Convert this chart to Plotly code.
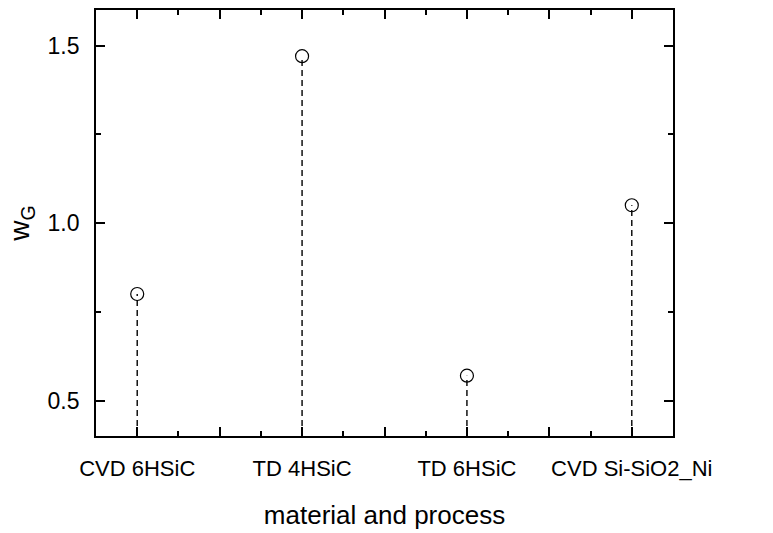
import plotly.graph_objects as go

categories = ["CVD 6HSiC", "TD 4HSiC", "TD 6HSiC", "CVD Si-SiO2_Ni"]
wG = [0.80, 1.47, 0.57, 1.05]
y_min, y_max = 0.4, 1.6
x_range = [-0.25, 3.25]

positions = list(range(len(categories)))
half_positions = [i + 0.5 for i in positions[:-1]]

fig = go.Figure()
for xi, v in zip(positions, wG):
    fig.add_trace(go.Scatter(
        x=[xi, xi], y=[y_min, v], mode="lines", xaxis="x2",
        line=dict(color="black", width=1.4, dash="6px,4px"),
        showlegend=False, hoverinfo="skip"))
fig.add_trace(go.Scatter(
    x=positions, y=wG, mode="markers",
    marker=dict(symbol="circle-open", size=13, color="black", line=dict(width=1.2)),
    showlegend=False))

axis_common = dict(
    showgrid=False, zeroline=False, linecolor="black", linewidth=1.8,
    mirror="ticks", ticks="inside", ticklen=9, tickwidth=1.8, tickcolor="black",
)

fig.update_layout(
    xaxis=dict(
        range=x_range, tickmode="array", tickvals=positions, ticktext=categories,
        showline=True,
        minor=dict(ticks="inside", ticklen=5, tickwidth=1.8, tickcolor="black", dtick=0.25, tick0=0),
        tickfont=dict(size=22, color="black"), ticklabelstandoff=12,
        title=dict(text="material and process", font=dict(size=26, color="black"), standoff=26),
        **axis_common),
    xaxis2=dict(
        range=x_range, overlaying="x", side="bottom", tickmode="array",
        tickvals=half_positions, showticklabels=False, showline=False,
        **axis_common),
    yaxis=dict(
        range=[y_min, y_max], tickmode="array", tickvals=[0.5, 1.0, 1.5], tickformat=".1f",
        showline=True,
        minor=dict(ticks="inside", ticklen=5, tickwidth=1.8, tickcolor="black", tickvals=[0.75, 1.25]),
        tickfont=dict(size=23, color="black"), ticklabelstandoff=10,
        title=dict(text="w<sub>G</sub>", font=dict(size=28, color="black"), standoff=10),
        **axis_common),
    width=773, height=533,
    margin=dict(l=96, r=100, t=8, b=97),
    paper_bgcolor="white", plot_bgcolor="white",
    font=dict(family="Liberation Sans, Arial, sans-serif", color="black"),
)

fig.write_html("out.html")
